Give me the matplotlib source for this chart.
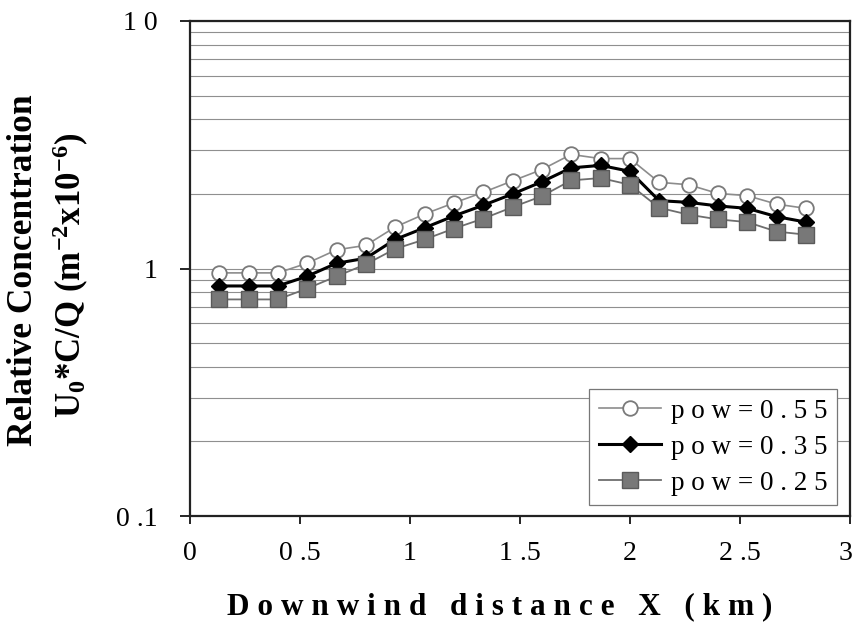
import matplotlib
matplotlib.use("Agg")
import matplotlib.pyplot as plt
from matplotlib.ticker import FixedLocator, NullFormatter
from matplotlib.transforms import ScaledTranslation

# ---- data ----
x_km = [0.133, 0.267, 0.400, 0.533, 0.667, 0.800, 0.933, 1.067, 1.200, 1.333, 1.467,
        1.600, 1.733, 1.867, 2.000, 2.133, 2.267, 2.400, 2.533, 2.667, 2.800]
pow055 = [0.96, 0.96, 0.96, 1.05, 1.19, 1.24, 1.47, 1.66, 1.84, 2.03, 2.26,
          2.51, 2.89, 2.78, 2.78, 2.23, 2.18, 2.01, 1.97, 1.82, 1.75]
pow035 = [0.85, 0.85, 0.85, 0.93, 1.05, 1.10, 1.31, 1.46, 1.63, 1.80, 2.00,
          2.24, 2.55, 2.61, 2.47, 1.88, 1.85, 1.79, 1.75, 1.62, 1.54]
pow025 = [0.75, 0.75, 0.75, 0.83, 0.93, 1.04, 1.20, 1.31, 1.45, 1.59, 1.77,
          1.96, 2.27, 2.32, 2.18, 1.76, 1.65, 1.58, 1.54, 1.41, 1.37]
labels = ["p o w = 0 . 5 5", "p o w = 0 . 3 5", "p o w = 0 . 2 5"]
xticks = [0, 0.5, 1, 1.5, 2, 2.5, 3]
xticklabels = ["0", "0 .5", "1", "1 .5", "2", "2 .5", "3"]
yticks = [0.1, 1, 10]
yticklabels = ["0 .1", "1", "1 0"]

plt.rcParams["font.family"] = ["Liberation Serif", "DejaVu Serif"]
plt.rcParams["mathtext.default"] = "regular"

fig = plt.figure(figsize=(8.55, 6.25), dpi=100)
ax = fig.add_axes([0.222, 0.1744, 0.772, 0.792])

ax.set_yscale("log")
ax.set_xlim(0, 3)
ax.set_ylim(0.1, 10)

# grid lines
ax.yaxis.set_minor_locator(FixedLocator([m * d for d in (0.1, 1) for m in range(2, 10)]))
ax.yaxis.set_minor_formatter(NullFormatter())
ax.grid(True, which="both", axis="y", color="#8f8f8f", linewidth=0.8)
ax.tick_params(axis="y", which="minor", length=0)

ax.plot(x_km, pow055, "-", color="#8c8c8c", lw=1.2, marker="o", ms=10.5,
        mfc="white", mec="#7a7a7a", mew=1.3, label=labels[0], zorder=3)
ax.plot(x_km, pow035, "-", color="black", lw=2.2, marker="D", ms=8.5,
        mfc="black", mec="black", label=labels[1], zorder=4)
ax.plot(x_km, pow025, "-", color="#6e6e6e", lw=1.3, marker="s", ms=11,
        mfc="#787878", mec="#5a5a5a", mew=1.0, label=labels[2], zorder=5)

ax.set_xticks(xticks)
ax.set_xticklabels(xticklabels, fontsize=20)
ax.set_yticks(yticks)
ax.set_yticklabels(yticklabels, fontsize=20)
ax.tick_params(axis="x", which="major", direction="out", length=6, width=1.2, pad=12)
ax.tick_params(axis="y", which="major", direction="out", length=7, width=1.2, pad=16)

# nudge the last x tick label so it stays inside the figure
last = ax.get_xticklabels()[-1]
last.set_transform(last.get_transform() + ScaledTranslation(-4 / 100, 0, fig.dpi_scale_trans))

for s in ax.spines.values():
    s.set_linewidth(1.6)
    s.set_color("#222222")

leg = ax.legend(loc="lower right", fontsize=19.5, frameon=True, fancybox=False,
                edgecolor="#777777", framealpha=1, borderpad=0.35,
                handlelength=2.3, handletextpad=0.35, labelspacing=0.4,
                borderaxespad=0, bbox_to_anchor=(0.98, 0.022))
leg.get_frame().set_linewidth(0.9)

fig.text(0.585, 0.029, "D o w n w i n d   d i s t a n c e   X   ( k m )",
         ha="center", va="center", fontsize=22.5, fontweight="bold")
fig.text(0.027, 0.568, "Relative Concentration", rotation=90, ha="center",
         va="center", fontsize=25.5, fontweight="bold")
fig.text(0.083, 0.56, r"U$_0$*C/Q (m$^{-2}$x10$^{-6}$)", rotation=90,
         ha="center", va="center", fontsize=25, fontweight="bold")

fig.savefig("out.png", dpi=100)
